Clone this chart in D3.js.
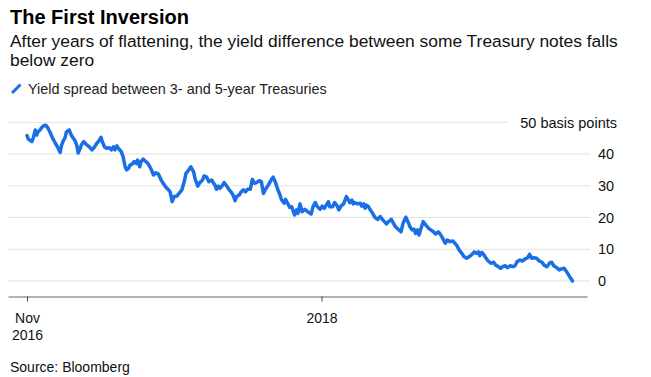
<!DOCTYPE html>
<html>
<head>
<meta charset="utf-8">
<script src="https://cdn.jsdelivr.net/npm/d3@7"></script>
<style>
  html, body { margin: 0; padding: 0; background: #fff; }
  svg { display: block; font-family: "Liberation Sans", Arial, Helvetica, sans-serif; }
</style>
</head>
<body>
<svg id="chart" width="651" height="377"></svg>
<script>
// ---- data ----
const title = "The First Inversion";
const subtitleLines = ["After years of flattening, the yield difference between some Treasury notes falls", "below zero"];
const seriesName = "Yield spread between 3- and 5-year Treasuries";
const source = "Source: Bloomberg";
const startDate = "2016-11-01";
// days after startDate
const days = [0,2,7,9,12,14,16,19,21,24,27,30,33,37,41,44,48,50,53,55,57,61,64,67,69,72,74,77,79,82,86,90,94,97,101,104,107,109,112,115,119,122,125,127,130,132,136,139,142,144,147,149,152,155,158,160,163,165,168,171,175,179,183,186,190,194,197,201,204,207,210,213,217,220,224,228,230,233,237,241,243,247,250,254,256,260,263,267,270,272,274,277,279,282,285,289,292,295,298,301,303,307,310,313,316,319,323,326,329,332,336,339,342,345,349,353,356,359,363,366,368,372,374,377,380,383,387,390,392,395,398,402,406,411,414,417,420,424,427,430,434,436,438,442,445,448,451,454,458,460,462,465,467,470,472,474,478,482,484,487,489,491,494,496,500,503,507,511,514,517,520,523,527,530,533,537,541,544,548,551,554,557,560,562,565,567,570,573,577,581,584,588,591,595,597,601,605,608,612,616,619,622,625,629,632,636,640,643,647,650,653,655,658,661,664,667,671,675,678,682,685,688,692,695,699,703,706,709,713,717,720,724,727,730,733,737,741,745,748,752,756,759,762,766,770,773,777,780,783,786,789];
// spread in basis points
const spread = [45.8,44.7,43.9,45,47.6,46,47,47.6,48.3,48.9,49.1,48.3,47,45,43.4,42.3,40.5,42.8,44.4,45.1,47,47.6,46,45,44.4,42.8,40.3,41.8,43,43.9,43,42.3,41.3,42,43.4,44.1,45.3,43.9,42.3,41.8,42,41.3,42.3,41.3,42.6,41.8,40.9,39.2,36,35,35.5,36.5,36.8,37.6,37,38.1,36,37.6,38.4,37.8,37,35.5,33.4,34.1,33.7,31.8,30.8,29.5,28.9,28.1,25,26.6,26.8,27.6,28.7,31.8,33.9,34.7,36,34.4,32.3,29.9,31,31.8,33.1,32.7,31.3,31.8,30.8,30.2,28.9,29.9,29.2,29.9,31,29.9,28.9,28.1,27.1,25.3,26.6,27.1,28.1,28.7,28.1,28.9,28.9,32,30.8,31,31.6,31.3,27.6,28.9,30.2,31.8,32.7,31.3,28.7,27.1,25.7,24.5,25.7,24.5,23.2,23.4,20.8,22.4,21.3,24.3,21.8,22.6,21.8,21.1,23.6,24.7,23.4,22.6,23.6,22.9,24.3,25,23.4,23.4,24.7,23.9,22.4,23.6,24.3,25.5,26.6,25.5,24.7,25.5,24.3,24.7,24.3,24.5,23.6,24.3,22.9,23.9,23.4,22.6,21.3,20.1,19.4,20.3,19.4,18.7,18,18.7,19.4,18.2,17.1,16.3,15.5,18.2,20.1,18.7,17.1,16.1,16.3,15,16.1,14.5,16.6,18.7,17.6,16.6,16.1,15.5,14.8,15.5,15,13.6,11.9,12.9,12.4,12.6,11.9,11.1,9.8,8.7,7.7,7.2,7.7,8.2,9.2,8.7,9.2,8,9,8.2,7.2,6.3,5.6,5.9,5,4.5,4,4.5,4.8,4.2,4.8,4.5,4.8,6.1,6.6,6.3,6.9,7.3,8.4,7.2,7.3,7.2,6.3,5.9,5,4.5,5.7,5.9,4.8,4.2,3.5,3.8,4,3.1,2.1,1,0];
const yTicks = [0, 10, 20, 30, 40, 50];
const yTopLabel = "50 basis points";
const xTickDates = ["2016-11-01", "2018-01-01"];
const xTickLabels = [["Nov", "2016"], ["2018"]];

// ---- chart ----
const parse = d3.timeParse("%Y-%m-%d");
const t0 = parse(startDate);
const data = days.map((d, i) => ({ date: d3.timeDay.offset(t0, d), value: spread[i] }));

const svg = d3.select("#chart");
const blue = "#1a6fe6";

// x scale: anchored on tick dates, then extended to the axis line extent
const base = d3.scaleTime().domain(xTickDates.map(parse)).range([27, 321.5]);
const x = d3.scaleTime().domain([base.invert(8), base.invert(587)]).range([8, 587]);
const y = d3.scaleLinear().domain([0, 50]).range([281, 122.3]);

// titles
svg.append("text").attr("x", 10).attr("y", 23.5)
  .attr("font-size", 20).attr("font-weight", "bold").attr("fill", "#000").text(title);
svg.append("text").attr("x", 10).attr("y", 47)
  .attr("font-size", 17.4).attr("fill", "#111")
  .selectAll("tspan").data(subtitleLines).join("tspan")
  .attr("x", 10).attr("dy", (d, i) => i === 0 ? 0 : 18.5).text(d => d);

// legend
svg.append("line").attr("x1", 12).attr("y1", 93).attr("x2", 20.5).attr("y2", 84.5)
  .attr("stroke", blue).attr("stroke-width", 3);
svg.append("text").attr("x", 28).attr("y", 93.5)
  .attr("font-size", 14.4).attr("fill", "#222").text(seriesName);

// gridlines
svg.append("g").selectAll("line").data(yTicks).join("line")
  .attr("x1", 8).attr("x2", d => d === 50 ? 508 : 590)
  .attr("y1", d => y(d)).attr("y2", d => y(d))
  .attr("stroke", "#e3e3e3").attr("stroke-width", 1);

// y labels
svg.append("g").selectAll("text").data(yTicks).join("text")
  .attr("x", d => d === 50 ? 617 : 598)
  .attr("text-anchor", d => d === 50 ? "end" : "start")
  .attr("y", d => y(d)).attr("dy", "0.36em")
  .attr("font-size", 14.5).attr("fill", "#111")
  .text(d => d === 50 ? yTopLabel : d);

// x axis
const xAxis = d3.axisBottom(x)
  .tickValues(xTickDates.map(parse))
  .tickSizeInner(5).tickSizeOuter(0)
  .tickFormat(() => "");
const gx = svg.append("g").attr("transform", "translate(0,296.5)").call(xAxis);
gx.select(".domain").attr("stroke", "#666");
gx.selectAll(".tick line").attr("stroke", "#444");
gx.selectAll(".tick text").remove();
gx.selectAll(".tick").each(function(d, i) {
  const t = d3.select(this).append("text")
    .attr("text-anchor", "middle").attr("fill", "#111")
    .attr("font-size", 14).attr("y", 26.5);
  xTickLabels[i].forEach((s, j) => t.append("tspan").attr("x", 0).attr("dy", j === 0 ? 0 : 17).text(s));
});

// line
svg.append("path").datum(data)
  .attr("fill", "none").attr("stroke", blue).attr("stroke-width", 3.5)
  .attr("stroke-linejoin", "round").attr("stroke-linecap", "round")
  .attr("d", d3.line().x(d => x(d.date)).y(d => y(d.value)));

// source
svg.append("text").attr("x", 10).attr("y", 372)
  .attr("font-size", 14).attr("fill", "#111").text(source);
</script>
</body>
</html>
